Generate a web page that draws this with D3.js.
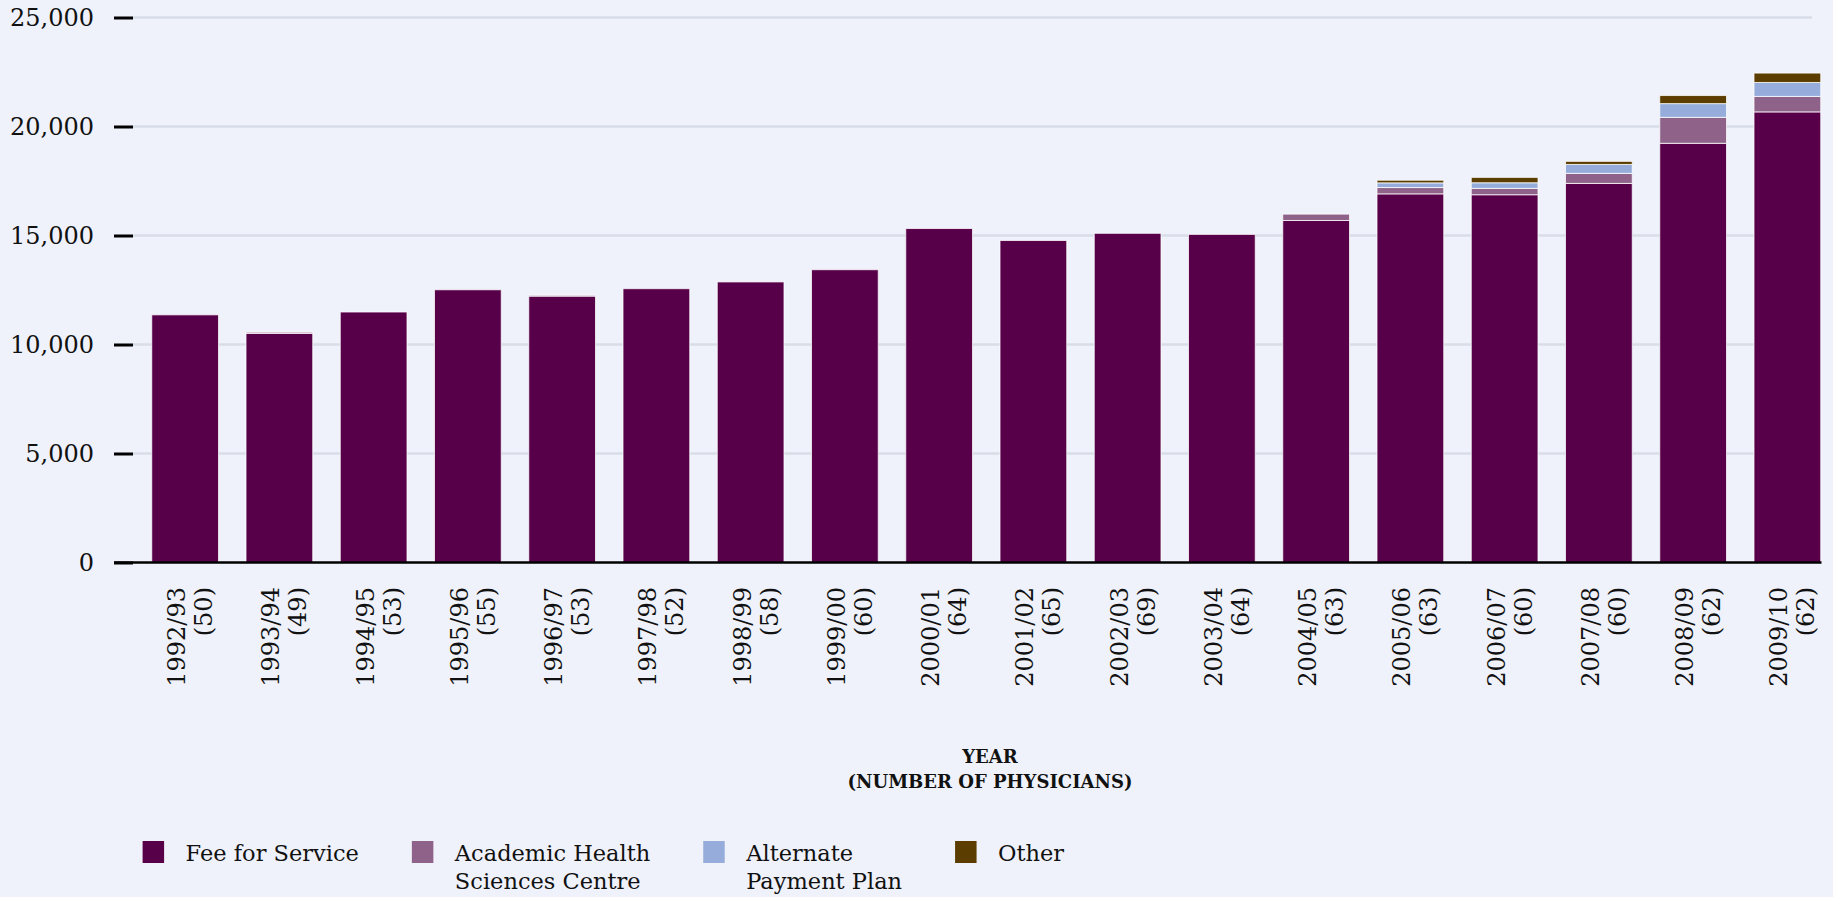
<!DOCTYPE html>
<html>
<head>
<meta charset="utf-8">
<script src="https://cdn.jsdelivr.net/npm/d3@7"></script>
<style>
  html, body { margin: 0; padding: 0; background: #eff2fa; }
  svg { display: block; }
</style>
</head>
<body>
<div id="chart"></div>
<script>
// values
const years = ["1992/93", "1993/94", "1994/95", "1995/96", "1996/97", "1997/98", "1998/99", "1999/00", "2000/01",
  "2001/02", "2002/03", "2003/04", "2004/05", "2005/06", "2006/07", "2007/08", "2008/09", "2009/10"];
const physicians = [50, 49, 53, 55, 53, 52, 58, 60, 64, 65, 69, 64, 63, 63, 60, 60, 62, 62];

const feeForService = [11360, 10510, 11490, 12510, 12220, 12560, 12870, 13430, 15320, 14770, 15100, 15050, 15690, 16910, 16870, 17390, 19230, 20670];
const academicHealth = [0, 55, 0, 0, 45, 0, 0, 0, 0, 0, 0, 0, 290, 290, 290, 460, 1190, 710];
const alternatePlan = [0, 0, 0, 0, 0, 0, 0, 0, 0, 0, 0, 0, 0, 215, 260, 410, 630, 640];
const otherPay = [0, 0, 0, 0, 0, 0, 0, 0, 0, 0, 0, 0, 0, 120, 245, 140, 370, 430];

const seriesKeys = ["ffs", "ahsc", "app", "other"];
const legendLabels = [["Fee for Service"], ["Academic Health", "Sciences Centre"], ["Alternate", "Payment Plan"], ["Other"]];
const colors = ["#570049", "#8f6289", "#96addb", "#5c3d00"];
const yTicks = [0, 5000, 10000, 15000, 20000, 25000];

const width = 1833, height = 897;
const tickFont = "DejaVu Serif";

const rows = years.map((yr, i) => ({
  year: yr,
  ffs: feeForService[i],
  ahsc: academicHealth[i],
  app: alternatePlan[i],
  other: otherPay[i]
}));

const svg = d3.select("#chart").append("svg")
  .attr("width", width)
  .attr("height", height)
  .style("background", "#eff2fa");

const x = d3.scaleBand().domain(years).range([138, 1834.5]).paddingInner(0.292).paddingOuter(0.146);
const y = d3.scaleLinear().domain([0, 25000]).range([562.5, 17.5]);
const color = d3.scaleOrdinal().domain(seriesKeys).range(colors);

// gridlines
svg.append("g")
  .selectAll("line")
  .data(yTicks.filter(d => d > 0))
  .join("line")
  .attr("x1", 133).attr("x2", 1812)
  .attr("y1", d => y(d)).attr("y2", d => y(d))
  .attr("stroke", "#d9dde8")
  .attr("stroke-width", 2.5);

// stacked bars
const stacked = d3.stack().keys(seriesKeys)(rows);

svg.append("g")
  .selectAll("g")
  .data(stacked)
  .join("g")
  .attr("fill", d => color(d.key))
  .selectAll("rect")
  .data(d => d.filter(s => s[1] - s[0] > 0))
  .join("rect")
  .attr("x", d => x(d.data.year))
  .attr("width", x.bandwidth())
  .attr("y", d => y(d[1]))
  .attr("height", d => y(d[0]) - y(d[1]))
  .attr("stroke", "#fff")
  .attr("stroke-opacity", 0.75)
  .attr("stroke-width", 1);

// x baseline
svg.append("line")
  .attr("x1", 114).attr("x2", x.range()[1] - 13)
  .attr("y1", y(0)).attr("y2", y(0))
  .attr("stroke", "#000")
  .attr("stroke-width", 2.5);

// y axis
const yAxis = svg.append("g")
  .attr("transform", "translate(133,0)")
  .call(d3.axisLeft(y).tickValues(yTicks).tickSize(19).tickPadding(20).tickFormat(d3.format(",")));
yAxis.select(".domain").remove();
yAxis.selectAll(".tick line").attr("stroke", "#000").attr("stroke-width", 3);
yAxis.selectAll(".tick text")
  .attr("fill", "#111")
  .style("font-family", tickFont)
  .style("font-size", "24px");

// x labels, rotated, two lines
const xLabels = svg.append("g")
  .selectAll("text")
  .data(years)
  .join("text")
  .attr("transform", d => `translate(${x(d) + x.bandwidth() / 2}, 587) rotate(-90)`)
  .attr("text-anchor", "end")
  .attr("fill", "#111")
  .style("font-family", tickFont)
  .style("font-size", "24px");

xLabels.append("tspan").attr("x", 0).attr("dy", 0).text(d => d);
xLabels.append("tspan").attr("x", 0).attr("dy", "1.12em").text((d, i) => `(${physicians[i]})`);

// axis title
const title = svg.append("text")
  .attr("x", 990)
  .attr("y", 763)
  .attr("text-anchor", "middle")
  .attr("fill", "#111")
  .style("font-family", tickFont)
  .style("font-weight", "bold")
  .style("font-size", "18px");
title.append("tspan").attr("x", 990).text("YEAR");
title.append("tspan").attr("x", 990).attr("dy", 25).text("(NUMBER OF PHYSICIANS)");

// legend
const legend = svg.append("g").attr("transform", "translate(142.6,0)");
let lx = 0;
legendLabels.forEach((lines, i) => {
  const item = legend.append("g").attr("transform", `translate(${lx},0)`);
  item.append("rect")
    .attr("x", 0).attr("y", 841)
    .attr("width", 21.5).attr("height", 22)
    .attr("fill", colors[i]);
  const t = item.append("text")
    .attr("y", 861)
    .attr("fill", "#111")
    .style("font-family", tickFont)
    .style("font-size", "22.5px");
  lines.forEach((ln, j) => {
    t.append("tspan").attr("x", 43).attr("dy", j === 0 ? 0 : 28).text(ln);
  });
  const w = d3.max(t.selectAll("tspan").nodes(), n => n.getComputedTextLength());
  lx += 43 + w + 53;
});
</script>
</body>
</html>
